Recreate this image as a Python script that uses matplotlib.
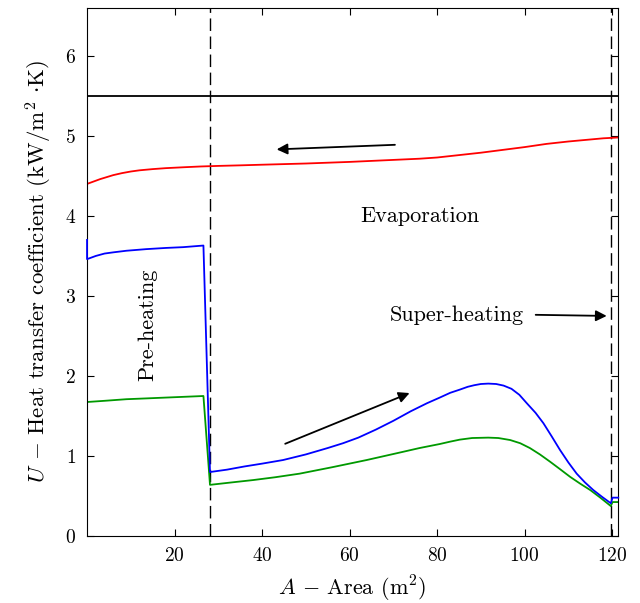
import matplotlib
matplotlib.use('Agg')
import matplotlib.pyplot as plt

plt.rcParams['font.family'] = ['cmr10', 'DejaVu Serif']
plt.rcParams['mathtext.fontset'] = 'cm'
plt.rcParams['axes.formatter.use_mathtext'] = True
plt.rcParams['font.size'] = 14

# red curve (whole range)
red_x = [0, 1, 2, 3, 4.5, 6, 8, 10, 12, 15, 18, 22, 26, 30, 35, 40, 50, 60, 70, 76, 80, 85, 90, 95, 100, 105, 110, 115, 118, 121.4]
red_y = [4.40, 4.42, 4.44, 4.46, 4.485, 4.51, 4.535, 4.555, 4.57, 4.585, 4.597, 4.608, 4.618, 4.625, 4.632, 4.64, 4.655, 4.675, 4.70, 4.715, 4.73, 4.76, 4.79, 4.825, 4.86, 4.90, 4.93, 4.955, 4.97, 4.98]

# blue curve
blue_x = [0, 0, 2, 4, 6, 9, 13.5, 18, 22, 26.6, 28.1, 32, 36, 40, 44.8, 50, 55, 58.5, 62, 66, 70, 74, 77.7, 80.6, 83, 85.2, 87, 88.5, 90, 91.7, 93.5,
          95.2, 97, 98.8, 100.5, 102.5, 104.3, 106.2, 108.1, 110, 111.9, 113.8, 115.7, 117.7, 119.7, 120.1, 121.4]
blue_y = [3.70, 3.46, 3.50, 3.53, 3.545, 3.565, 3.585, 3.60, 3.61, 3.63, 0.80, 0.83, 0.87, 0.905, 0.95, 1.02, 1.10, 1.16, 1.23, 1.33, 1.44, 1.56, 1.66, 1.73, 1.79, 1.83, 1.865, 1.885, 1.90, 1.905, 1.90,
          1.88, 1.84, 1.765, 1.66, 1.54, 1.41, 1.245, 1.075, 0.92, 0.78, 0.67, 0.575, 0.49, 0.41, 0.48, 0.48]

# green curve
green_x = [0, 4, 9, 13.5, 20, 26.6, 28.1, 33, 38, 43, 48.6, 56, 63.9, 72, 76, 80.6, 83, 85.2, 88, 91.7, 94, 96.7, 99, 101.2, 103.5, 105.8, 108, 110.4, 112.7, 115, 117.3, 119.7, 120.1, 121.4]
green_y = [1.675, 1.69, 1.71, 1.72, 1.735, 1.75, 0.64, 0.67, 0.70, 0.735, 0.78, 0.86, 0.95, 1.05, 1.10, 1.15, 1.18, 1.205, 1.225, 1.23, 1.225, 1.20, 1.16, 1.10, 1.02, 0.93, 0.84, 0.74, 0.655, 0.575, 0.48, 0.375, 0.425, 0.425]

u_limit = 5.5
zone_edges = [28.0, 119.7]

fig = plt.figure(figsize=(6.4, 6.03), dpi=100)
ax = fig.add_axes([0.136, 0.111, 0.830, 0.876])

ax.axhline(u_limit, color='black', lw=1.3)
for xe in zone_edges:
    ax.axvline(xe, color='black', lw=1.0, ls=(0, (9, 4)))

ax.plot(red_x, red_y, color='#ff0000', lw=1.3)
ax.plot(blue_x, blue_y, color='#0000ff', lw=1.3, zorder=3, clip_on=False)
ax.plot(green_x, green_y, color='#009900', lw=1.3)

arrow = dict(arrowstyle='-|>', color='black', lw=1.3, mutation_scale=16)
ax.annotate('', xy=(42.7, 4.83), xytext=(71.0, 4.89), arrowprops=arrow)
ax.annotate('', xy=(74.3, 1.80), xytext=(44.7, 1.14), arrowprops=arrow)
ax.annotate('', xy=(119.4, 2.75), xytext=(101.9, 2.765), arrowprops=arrow)

ax.text(76, 3.99, 'Evaporation', ha='center', va='center', fontsize=16)
ax.text(84.6, 2.76, 'Super-heating', ha='center', va='center', fontsize=16)
ax.text(13.8, 2.64, 'Pre-heating', ha='center', va='center', rotation=90, fontsize=16)

ax.set_xlim(0, 121.4)
ax.set_ylim(0, 6.6)
ax.set_xticks([20, 40, 60, 80, 100, 120])
ax.set_yticks([0, 1, 2, 3, 4, 5, 6])
ax.tick_params(direction='in', top=True, right=True, length=5, labelsize=14, pad=8)
ax.set_xlabel(r'$A$ $-$ Area (m$^2$)', fontsize=16, labelpad=6)
ax.set_ylabel(r'$U$ $-$ Heat transfer coefficient (kW/m$^2$ $\cdot$K)', fontsize=16.5, labelpad=8)

fig.savefig('out.png', dpi=100)
